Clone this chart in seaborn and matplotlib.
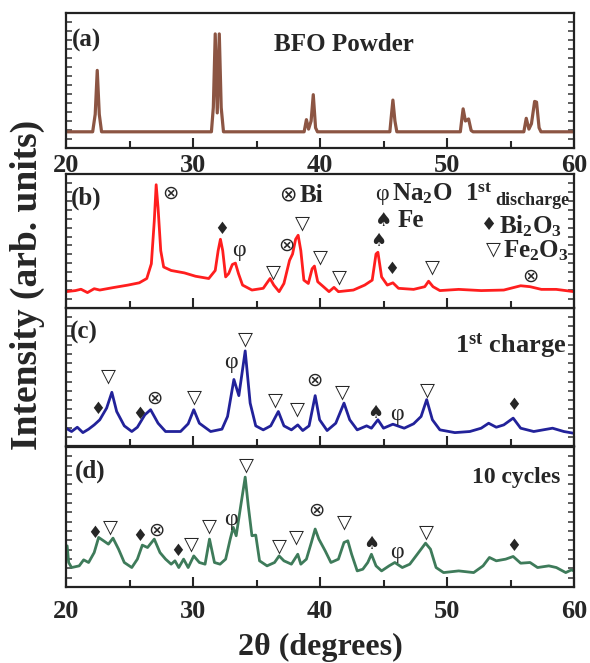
import matplotlib
matplotlib.use('Agg')
import matplotlib.pyplot as plt
import numpy as np
import pandas as pd
import seaborn as sns

# ---- data (2theta, normalised intensity) ----
a_tt = [20.0, 22.1, 22.3, 22.46, 22.62, 22.8, 31.45, 31.6, 31.75, 31.91, 32.07, 32.22, 32.4,
        38.75, 38.93, 39.1, 39.3, 39.47, 39.65, 39.8, 45.5, 45.6, 45.74, 45.9, 46.05,
        51.05, 51.15, 51.27, 51.45, 51.7, 51.9, 52.05, 56.05, 56.24, 56.45, 56.65, 56.9,
        57.05, 57.25, 57.4, 60.0]
a_int = [0.12, 0.12, 0.25, 0.575, 0.25, 0.12, 0.12, 0.3, 0.845, 0.26, 0.845, 0.3, 0.12,
         0.12, 0.21, 0.14, 0.2, 0.395, 0.15, 0.12, 0.12, 0.22, 0.355, 0.2, 0.12,
         0.12, 0.2, 0.29, 0.2, 0.215, 0.13, 0.12, 0.12, 0.22, 0.14, 0.18, 0.345,
         0.34, 0.15, 0.12, 0.12]

b_tt = [20.0, 20.74, 21.18, 21.69, 22.22, 22.66, 23.7, 24.88, 25.77, 26.36, 26.72, 26.95, 27.1,
        27.25, 27.46, 27.69, 28.28, 29.32, 30.2, 31.24, 31.75, 31.98, 32.16, 32.34, 32.57,
        32.81, 33.1, 33.34, 33.58, 33.9, 34.64, 35.53, 35.89, 36.07, 36.36, 36.78, 37.16,
        37.6, 37.84, 38.08, 38.28, 38.49, 38.73, 39.08, 39.38, 39.56, 39.82, 40.27, 40.71,
        41.1, 41.45, 42.63, 43.52, 44.11, 44.41, 44.56, 44.85, 45.3, 45.74, 46.18, 47.37,
        48.25, 48.55, 48.9, 49.44, 50.92, 52.69, 54.47, 55.8, 56.54, 57.43, 58.6, 60.0]
b_int = [0.122, 0.13, 0.14, 0.115, 0.144, 0.134, 0.152, 0.171, 0.188, 0.22, 0.33, 0.648, 0.92,
         0.746, 0.428, 0.306, 0.28, 0.262, 0.237, 0.22, 0.28, 0.428, 0.513, 0.428, 0.232,
         0.257, 0.325, 0.335, 0.257, 0.171, 0.134, 0.147, 0.196, 0.22, 0.171, 0.122, 0.183,
         0.355, 0.403, 0.513, 0.543, 0.428, 0.208, 0.183, 0.293, 0.313, 0.196, 0.159, 0.122,
         0.154, 0.122, 0.134, 0.171, 0.208, 0.403, 0.416, 0.232, 0.171, 0.188, 0.147, 0.139,
         0.159, 0.2, 0.159, 0.13, 0.139, 0.13, 0.134, 0.166, 0.159, 0.139, 0.139, 0.122]

c_tt = [20.0, 20.44, 20.89, 21.33, 21.78, 22.22, 22.66, 23.2, 23.61, 23.99, 24.59, 25.18, 25.62,
        26.21, 26.66, 27.25, 27.84, 29.02, 29.62, 30.06, 30.5, 31.39, 32.28, 32.72, 33.22,
        33.61, 34.11, 34.5, 34.94, 35.53, 36.12, 36.72, 37.16, 37.75, 38.25, 38.64, 39.14,
        39.62, 39.97, 40.56, 41.24, 41.89, 42.34, 42.93, 43.67, 44.05, 44.56, 45.0, 45.74,
        46.63, 47.37, 47.96, 48.4, 48.85, 49.44, 50.62, 51.8, 52.69, 53.28, 53.88, 54.47,
        55.21, 55.8, 56.83, 58.31, 59.2, 60.0]
c_int = [0.129, 0.105, 0.136, 0.097, 0.122, 0.153, 0.19, 0.275, 0.389, 0.25, 0.146, 0.105, 0.136,
         0.226, 0.263, 0.165, 0.105, 0.105, 0.161, 0.263, 0.165, 0.105, 0.122, 0.214, 0.482,
         0.365, 0.689, 0.311, 0.146, 0.117, 0.146, 0.25, 0.146, 0.117, 0.153, 0.112, 0.146,
         0.365, 0.19, 0.112, 0.165, 0.311, 0.19, 0.117, 0.146, 0.129, 0.19, 0.129, 0.158,
         0.129, 0.161, 0.214, 0.336, 0.19, 0.117, 0.097, 0.105, 0.129, 0.165, 0.136, 0.153,
         0.202, 0.129, 0.105, 0.129, 0.105, 0.092]

d_tt = [20.09, 20.21, 20.44, 21.04, 21.39, 21.78, 22.22, 22.57, 22.96, 23.34, 23.7, 24.14, 24.59,
        25.18, 25.62, 26.01, 26.42, 26.95, 27.4, 27.84, 28.28, 28.58, 28.88, 29.26, 29.62,
        30.06, 30.5, 30.95, 31.3, 31.69, 32.13, 32.57, 32.93, 33.17, 33.4, 33.76, 34.11,
        34.35, 34.64, 34.94, 35.24, 35.83, 36.42, 36.78, 37.16, 37.75, 38.25, 38.49, 38.93,
        39.32, 39.62, 39.91, 40.41, 40.86, 41.45, 41.89, 42.19, 42.49, 42.93, 43.37, 43.76,
        44.05, 44.41, 44.85, 45.44, 45.89, 46.48, 47.07, 47.66, 48.31, 48.7, 49.14, 49.73,
        50.92, 52.1, 52.84, 53.34, 53.88, 54.62, 55.21, 55.8, 56.54, 57.13, 58.02, 58.61,
        59.35, 59.79, 60.0]
d_int = [0.294, 0.175, 0.139, 0.151, 0.194, 0.175, 0.246, 0.354, 0.33, 0.306, 0.349, 0.27, 0.175,
         0.139, 0.199, 0.299, 0.282, 0.342, 0.246, 0.199, 0.163, 0.187, 0.139, 0.199, 0.139,
         0.222, 0.175, 0.163, 0.342, 0.175, 0.163, 0.199, 0.342, 0.426, 0.366, 0.581, 0.785,
         0.581, 0.366, 0.371, 0.187, 0.151, 0.175, 0.222, 0.187, 0.163, 0.234, 0.163, 0.199,
         0.318, 0.414, 0.342, 0.258, 0.175, 0.199, 0.318, 0.33, 0.234, 0.115, 0.127, 0.175,
         0.234, 0.151, 0.115, 0.151, 0.175, 0.139, 0.163, 0.234, 0.313, 0.27, 0.139, 0.103,
         0.115, 0.103, 0.151, 0.211, 0.187, 0.199, 0.218, 0.17, 0.175, 0.139, 0.151, 0.139,
         0.103, 0.122, 0.115]

# phase markers: (2theta, height, symbol)
b_marks = [(28.2, 0.856, 'x'), (32.28, 0.587, 'd'), (33.6, 0.428, 'p'), (36.33, 0.27, 'v'),
           (37.37, 0.465, 'x'), (38.64, 0.636, 'v'), (40.03, 0.379, 'v'), (41.5, 0.232, 'v'),
           (44.56, 0.50, 's'), (45.68, 0.289, 'd'), (48.85, 0.306, 'v'), (56.54, 0.237, 'x')]
c_marks = [(22.46, 0.268, 'd'), (23.34, 0.506, 'v'), (25.77, 0.231, 'd'), (26.95, 0.348, 'x'),
           (30.15, 0.355, 'v'), (32.99, 0.603, 'p'), (34.11, 0.774, 'v'), (36.5, 0.336, 'v'),
           (38.25, 0.268, 'v'), (39.53, 0.474, 'x'), (41.8, 0.389, 'v'), (44.35, 0.238, 's'),
           (46.04, 0.226, 'p'), (48.46, 0.409, 'v'), (55.21, 0.299, 'd')]
d_marks = [(22.22, 0.383, 'd'), (23.49, 0.431, 'v'), (25.83, 0.361, 'd'), (27.1, 0.409, 'x'),
           (28.79, 0.254, 'd'), (29.91, 0.306, 'v'), (31.33, 0.433, 'v'), (33.02, 0.481, 'p'),
           (34.2, 0.868, 'v'), (36.78, 0.294, 'v'), (38.14, 0.354, 'v'), (39.73, 0.545, 'x'),
           (41.89, 0.462, 'v'), (44.05, 0.306, 's'), (46.04, 0.246, 'p'), (48.4, 0.39, 'v'),
           (55.21, 0.294, 'd')]

colors = ['#8C5543', '#FF1E1E', '#22229A', '#3E7B5A']

sns.set_style('ticks')
plt.rcParams['font.family'] = ['Liberation Serif', 'DejaVu Sans']
plt.rcParams['font.weight'] = 'bold'
plt.rcParams['mathtext.fontset'] = 'custom'
plt.rcParams['mathtext.rm'] = 'Liberation Serif:bold'
plt.rcParams['mathtext.it'] = 'Liberation Serif:bold'
plt.rcParams['mathtext.bf'] = 'Liberation Serif:bold'

GLYPH = {'x': '\u2297', 'd': '\u2666', 's': '\u2660', 'v': '\u25bd', 'p': '\u03c6'}
GSIZE = {'x': 14, 'd': 12, 's': 13, 'v': 14, 'p': 17}


def sym(ax, x, y, k, size=None):
    size = size or GSIZE[k]
    fam = ['Liberation Serif'] if k == 'p' else ['DejaVu Sans']
    ax.text(x, y, GLYPH[k], ha='center', va='center', fontsize=size,
            family=fam, fontweight='normal')


fig = plt.figure(figsize=(5.9, 6.63), dpi=100)
W, H = 590, 663
boxes = [(13, 148), (174, 308), (308, 446), (447, 587)]
axes = []
for top, bot in boxes:
    axes.append(fig.add_axes([66 / W, 1 - bot / H, 508 / W, (bot - top) / H]))

series = [(a_tt, a_int), (b_tt, b_int), (c_tt, c_int), (d_tt, d_int)]
for i, (ax, (tt, yy)) in enumerate(zip(axes, series)):
    df = pd.DataFrame({'tt': tt, 'I': yy})
    sns.lineplot(data=df, x='tt', y='I', ax=ax, color=colors[i], estimator=None,
                 lw=2.3 if i == 0 else 2.0)
    ax.set_xlim(20, 60)
    ax.set_ylim(0, 1)
    ax.set_xlabel('')
    ax.set_ylabel('')
    ax.set_xticks([20, 30, 40, 50, 60])
    ax.set_xticks([25, 35, 45, 55], minor=True)
    ax.set_yticks(np.linspace(0, 1, 16))
    ax.set_yticklabels([])
    ax.tick_params(axis='y', which='both', direction='in', length=4, width=1.1,
                   color='#333333', left=True, right=True)
    ax.tick_params(axis='x', which='major', direction='in', length=7, width=1.5,
                   labelsize=19, pad=4 if i == 0 else 9)
    ax.tick_params(axis='x', which='minor', direction='in', length=5, width=1.5)
    for sp in ax.spines.values():
        sp.set_linewidth(1.6)
        sp.set_visible(True)
        sp.set_color('#222222')
    if i in (1, 2):
        ax.set_xticklabels([])
    for lab in ax.get_xticklabels():
        lab.set_fontweight('bold')
    ax.set_zorder(10 - i)

ax_a, ax_b, ax_c, ax_d = axes

ax_a.text(20.5, 0.80, '(a)', fontsize=18, va='center', ha='left')
ax_a.text(41.9, 0.77, 'BFO Powder', fontsize=18, va='center', ha='center')

ax_b.text(20.4, 0.82, '(b)', fontsize=18, va='center', ha='left')
sym(ax_b, 37.46, 0.84, 'x', 15)
ax_b.text(38.4, 0.84, 'Bi', fontsize=18, va='center', ha='left')
sym(ax_b, 44.85, 0.85, 'p')
ax_b.text(45.7, 0.85, 'Na$_2$O', fontsize=18, va='center', ha='left')
ax_b.text(51.4, 0.85, '1$^{st}$', fontsize=18, va='center', ha='left')
ax_b.text(53.8, 0.80, 'discharge', fontsize=13, va='center', ha='left')
sym(ax_b, 45.0, 0.65, 's', 14)
ax_b.text(46.1, 0.65, 'Fe', fontsize=18, va='center', ha='left')
sym(ax_b, 53.28, 0.62, 'd', 13)
ax_b.text(54.1, 0.61, 'Bi$_2$O$_3$', fontsize=18, va='center', ha='left')
sym(ax_b, 53.64, 0.44, 'v', 14)
ax_b.text(54.4, 0.43, 'Fe$_2$O$_3$', fontsize=18, va='center', ha='left')

ax_c.text(20.3, 0.82, '(c)', fontsize=18, va='center', ha='left')
ax_c.text(59.4, 0.73, '1$^{st}$ charge', fontsize=19, va='center', ha='right')

ax_d.text(20.7, 0.83, '(d)', fontsize=18, va='center', ha='left')
ax_d.text(58.9, 0.78, '10 cycles', fontsize=17, va='center', ha='right')

for ax, marks in [(ax_b, b_marks), (ax_c, c_marks), (ax_d, d_marks)]:
    for x, y, k in marks:
        sym(ax, x, y, k)

fig.text(0.5 * (66 + 574) / W, 1 - 647 / H, '2\u03b8 (degrees)', fontsize=23,
         ha='center', va='center', fontweight='bold')
fig.text(27 / W, 1 - 285 / H, 'Intensity (arb. units)', fontsize=27, rotation=90,
         ha='center', va='center', fontweight='bold')

fig.savefig('out.png', dpi=100)
